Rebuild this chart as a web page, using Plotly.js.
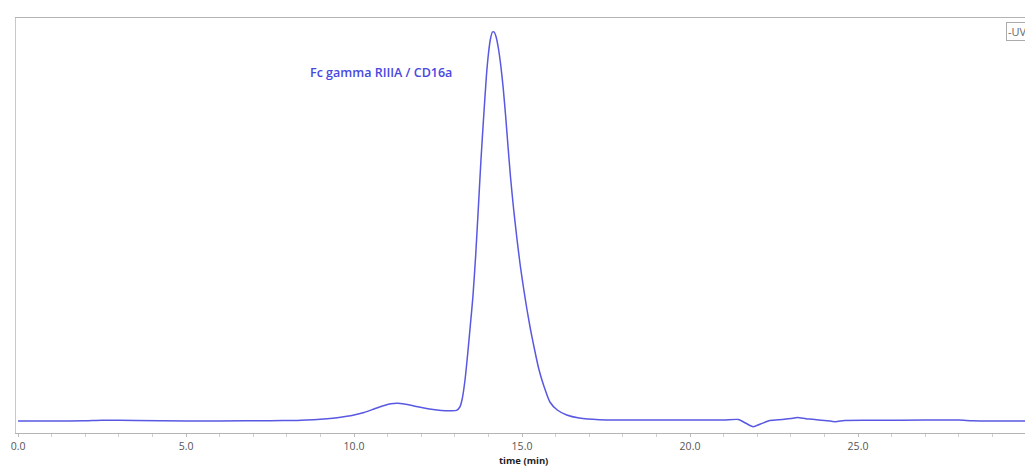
<!DOCTYPE html>
<html>
<head>
<meta charset="utf-8">
<script src="https://cdn.plot.ly/plotly-3.0.1.min.js"></script>
<style>html,body{margin:0;padding:0;background:#fff;}#chart{width:1025px;height:468px;}</style>
</head>
<body>
<div id="chart"></div>
<script>
// retention time (min)
const timeMin = [0, 1, 2, 2.5, 3.5, 5, 6, 7.5, 8.3, 8.8, 9.2, 9.5, 10.0, 10.3, 10.6, 10.9, 11.1, 11.3, 11.5, 11.9, 12.3, 12.6, 12.9, 13.05, 13.15, 13.22, 13.3, 13.38, 13.46, 13.54, 13.62, 13.70, 13.78, 13.86, 13.94, 14.00, 14.06, 14.12, 14.17, 14.23, 14.30, 14.37, 14.44, 14.51, 14.58, 14.66, 14.75, 14.85, 14.95, 15.05, 15.15, 15.25, 15.37, 15.50, 15.65, 15.83, 16.05, 16.33, 16.7, 17.3, 18.5, 20.0, 21.0, 21.44, 21.65, 21.88, 22.1, 22.38, 22.75, 23.0, 23.2, 23.45, 23.65, 24.0, 24.33, 24.6, 25.5, 27.0, 28.0, 28.4, 29.0, 30.0];
// UV absorbance (arbitrary units, baseline = 0)
const uvSignal = [0, 0, 0.3, 0.8, 0.6, 0, 0, 0.3, 0.6, 1.2, 2.2, 3.3, 6, 8.5, 12, 15.5, 17.3, 17.8, 17, 14.3, 11.8, 10.5, 10.2, 10.6, 14, 22, 40, 66, 95, 125, 165, 213, 262, 305, 345, 367, 382, 389, 389, 384, 372, 355, 333, 306, 276, 243, 212, 182, 155, 132, 111, 92, 72, 52, 35, 19, 11, 6, 3, 1.3, 1, 1, 1, 1.5, -2, -5.7, -3, 0.5, 1.5, 2.5, 3.5, 2.3, 1.7, 0.5, -0.7, 0.5, 0.7, 1, 1, 0.3, 0, 0];
const xTickVals = [0, 5, 10, 15, 20, 25, 30];
const xTickText = ['0.0', '5.0', '10.0', '15.0', '20.0', '25.0', '30.0'];
const peakLabel = 'Fc gamma RIIIA / CD16a';
const seriesName = 'UV';
const xAxisTitle = 'time (min)';

const trace = {
  x: timeMin,
  y: uvSignal,
  type: 'scatter',
  mode: 'lines',
  name: seriesName,
  line: {color: 'rgb(88,88,226)', width: 1.5, shape: 'spline', smoothing: 0.6},
  hoverinfo: 'x+y'
};

const layout = {
  width: 1025,
  height: 468,
  margin: {l: 16, r: 0, t: 18, b: 35},
  paper_bgcolor: '#ffffff',
  plot_bgcolor: '#ffffff',
  showlegend: false,
  font: {family: 'Open Sans, sans-serif', size: 11, color: '#555'},
  xaxis: {
    range: [-0.06, 29.97],
    tickvals: xTickVals,
    ticktext: xTickText,
    ticks: 'outside',
    ticklen: 3,
    tickcolor: '#bbb',
    ticklabelstandoff: 0,
    tickfont: {family: 'Open Sans, sans-serif', size: 10.5, color: '#555'},
    showgrid: false,
    zeroline: false,
    showline: true,
    linecolor: '#b4b4b4',
    linewidth: 1,
    mirror: true,
    minor: {dtick: 1, ticks: 'outside', ticklen: 3, tickcolor: '#d0d0d0', showgrid: false}
  },
  yaxis: {
    range: [-12, 403],
    showticklabels: false,
    ticks: '',
    showgrid: false,
    zeroline: false,
    showline: true,
    linecolor: '#c8c8c8',
    linewidth: 1.5
  },
  annotations: [
    {
      x: 10.8, y: 349, xref: 'x', yref: 'y',
      text: peakLabel, showarrow: false,
      font: {family: 'Open Sans, sans-serif', size: 12.5, color: 'rgb(72,72,225)', weight: 600}
    },
    {
      x: 15.03, y: 0, xref: 'x', yref: 'paper', yanchor: 'bottom', yshift: -35,
      text: '<b>' + xAxisTitle + '</b>', showarrow: false, borderpad: 0,
      font: {family: 'Open Sans, sans-serif', size: 9.5, color: '#222'}
    },
    {
      x: 1006, y: 22, xref: 'paper', yref: 'paper', xanchor: 'left', yanchor: 'top',
      text: '-' + seriesName, showarrow: false,
      bordercolor: '#aaa', borderwidth: 1, borderpad: 1, bgcolor: '#fff',
      font: {family: 'Open Sans, sans-serif', size: 11, color: '#666'}
    }
  ]
};

// legend box placed in pixel terms via paper coordinates
const plotW = 1025 - 16 - 0, plotH = 468 - 18 - 35;
layout.annotations[2].x = (1006 - 16) / plotW;
layout.annotations[2].y = 1 - (22 - 18) / plotH;

Plotly.newPlot('chart', [trace], layout, {displayModeBar: false, staticPlot: true});
</script>
</body>
</html>
